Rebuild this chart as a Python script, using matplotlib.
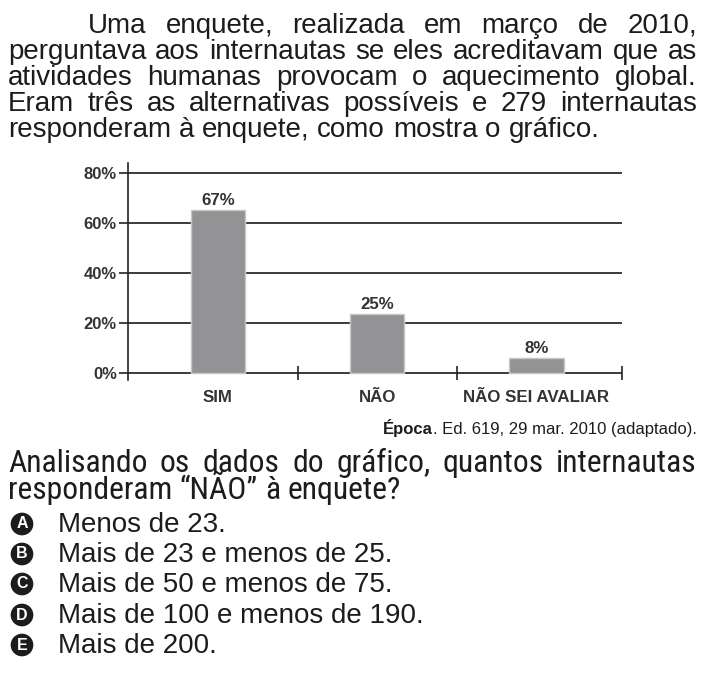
import matplotlib
matplotlib.use("Agg")
import matplotlib.pyplot as plt
from matplotlib import font_manager as fm

W, H = 706, 687

categories = ["SIM", "NÃO", "NÃO SEI AVALIAR"]
value_labels = ["67%", "25%", "8%"]
bar_heights = [65.3, 23.6, 6.0]
y_ticks = [0, 20, 40, 60, 80]
y_tick_labels = ["0%", "20%", "40%", "60%", "80%"]

intro_lines = [
    "Uma enquete, realizada em março de 2010,",
    "perguntava aos internautas se eles acreditavam que as",
    "atividades humanas provocam o aquecimento global.",
    "Eram três as alternativas possíveis e 279 internautas",
    "responderam à enquete, como mostra o gráfico.",
]
source_bold = "Época"
source_rest = ". Ed. 619, 29 mar. 2010 (adaptado)."
question_lines = [
    "Analisando os dados do gráfico, quantos internautas",
    "responderam \u201cNÃO\u201d à enquete?",
]
option_letters = ["A", "B", "C", "D", "E"]
option_texts = [
    "Menos de 23.",
    "Mais de 23 e menos de 25.",
    "Mais de 50 e menos de 75.",
    "Mais de 100 e menos de 190.",
    "Mais de 200.",
]

SANS = ["Liberation Sans", "DejaVu Sans"]
TEXT = "#1c1c1c"
CHART = "#333333"


def narrow_font():
    # a condensed sans for the question, if one is installed
    prefs = ["Liberation Sans Narrow", "Roboto Condensed", "Open Sans Condensed",
             "DejaVu Sans Condensed"]
    found = {}
    for f in fm.fontManager.ttflist:
        if f.style != "normal" or f.weight not in (400, "normal", "regular"):
            continue
        if "Narrow" in f.name or "Condensed" in f.name:
            found.setdefault(f.name, f.fname)
        elif f.stretch in ("condensed", "semi-condensed") and f.name in ("DejaVu Sans",):
            found.setdefault("DejaVu Sans Condensed", f.fname)
    for p in prefs:
        if p in found:
            return fm.FontProperties(fname=found[p])
    return fm.FontProperties(family=SANS)


fig = plt.figure(figsize=(W / 100, H / 100), dpi=100)
renderer = fig.canvas.get_renderer()


def fx(x):
    return x / W


def fy(y):
    return 1 - y / H


def width_of(t):
    return t.get_window_extent(renderer).width


def put_line(words, x0, x1, y, fp, justify):
    items = [fig.text(fx(x0), fy(y), w, fontproperties=fp, color=TEXT,
                      va="baseline", ha="left") for w in words]
    widths = [width_of(t) for t in items]
    if justify and len(items) > 1:
        gap = (x1 - x0 - sum(widths)) / (len(items) - 1)
    else:
        space = fig.text(0, 0, "a a", fontproperties=fp)
        solo = fig.text(0, 0, "aa", fontproperties=fp)
        gap = width_of(space) - width_of(solo)
        space.remove()
        solo.remove()
    x = x0
    for t, w in zip(items, widths):
        t.set_x(fx(x))
        x += w + gap


# intro paragraph
body = fm.FontProperties(family=SANS, size=20)
intro_base = [33, 59, 85, 111, 137]
for i, line in enumerate(intro_lines):
    x0 = 88 if i == 0 else 8
    put_line(line.split(), x0, 697, intro_base[i], body, i < len(intro_lines) - 1)

# chart
ax = fig.add_axes([fx(128), fy(380), fx(622) - fx(128), (380 - 163) / H])
pos = list(range(len(categories)))
ax.set_xlim(-0.565, 2.537)
ax.set_ylim(-2.8, 84)
for v in y_ticks:
    ax.axhline(v, color="#222222", lw=1.25, zorder=1)
ax.bar(pos, bar_heights, width=0.34, color="#939395", edgecolor="#c8c8c8",
       lw=1, zorder=2)
for p, h, lab in zip(pos, bar_heights, value_labels):
    ax.annotate(lab, (p, h), xytext=(0, 2), textcoords="offset pixels",
                ha="center", va="bottom", fontsize=12.2, fontweight="bold",
                family=SANS, color=CHART)
bounds = [(a + b) / 2 for a, b in zip(pos[:-1], pos[1:])] + [ax.get_xlim()[1]]
ax.vlines(bounds, -2.8, 2.8, color="#222222", lw=1.2, clip_on=False, zorder=3)

ax.set_yticks(y_ticks)
ax.set_yticklabels(y_tick_labels, fontsize=12, fontweight="bold", family=SANS,
                   color=CHART)
ax.set_xticks(pos)
ax.set_xticklabels(categories, fontsize=12.2, fontweight="bold", family=SANS,
                   color=CHART)
ax.tick_params(axis="y", length=6.5, width=1.2, color="#222222", pad=1.5)
ax.tick_params(axis="x", length=0, pad=7)
for side in ["top", "right", "bottom"]:
    ax.spines[side].set_visible(False)
ax.spines["left"].set_linewidth(1.2)
ax.spines["left"].set_color("#222222")
ax.patch.set_alpha(0)

# source line
rest = fig.text(fx(697), fy(434), source_rest, fontsize=12, family=SANS,
                color=TEXT, ha="right", va="baseline")
rw = width_of(rest)
fig.text(fx(697 - rw), fy(434), source_bold, fontsize=12, family=SANS,
         fontweight="bold", color=TEXT, ha="right", va="baseline")

# question: size the font so the short line is about as wide as in the print
qfp = narrow_font()
qfp.set_size(20)
probe = fig.text(0, 0, question_lines[1], fontproperties=qfp)
qfp.set_size(20 * 392 / width_of(probe))
probe.remove()
q_base = [472, 499]
for i, line in enumerate(question_lines):
    put_line(line.split(), 8, 697, q_base[i], qfp, i == 0)

# options
opt_base = [532, 562, 592, 623, 653]
for letter, txt, yb in zip(option_letters, option_texts, opt_base):
    fig.text(fx(22), fy(yb - 8), letter, fontsize=11.5, fontweight="bold",
             family=SANS, color="white", ha="center", va="center",
             bbox=dict(boxstyle="circle,pad=0.24", fc="#1c1c1c", ec="none"))
    fig.text(fx(58), fy(yb), txt, fontproperties=body, color=TEXT,
             ha="left", va="baseline")

fig.savefig("out.png", dpi=100)
